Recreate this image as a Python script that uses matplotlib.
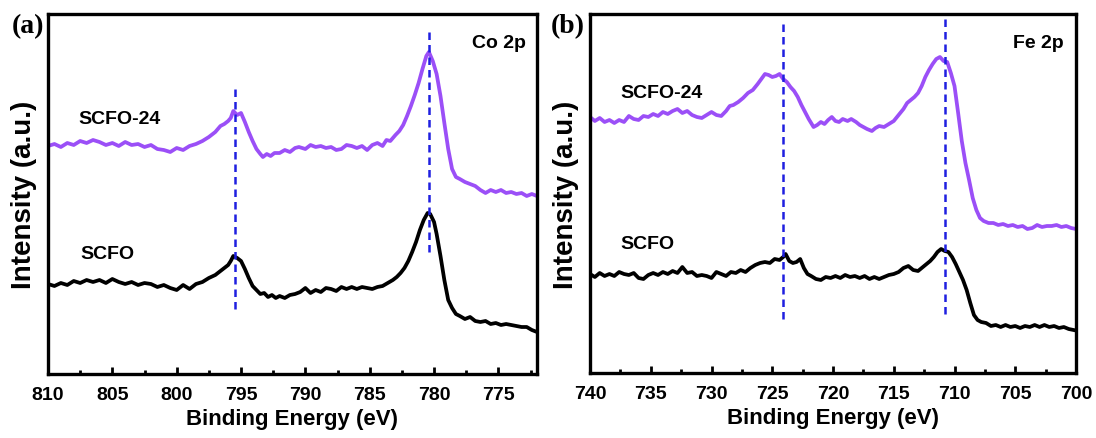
import matplotlib
matplotlib.use("Agg")
import matplotlib.pyplot as plt
import numpy as np
from matplotlib.ticker import AutoMinorLocator, MultipleLocator

plt.rcParams['font.family'] = ['Liberation Sans', 'DejaVu Sans']
plt.rcParams['font.weight'] = 'bold'

# Co 2p, SCFO-24 (purple)
co24_be = [810.0, 809.5, 809.0, 808.5, 808.0, 807.5, 807.0, 806.5, 806.0, 805.5,
           805.0, 804.5, 804.0, 803.5, 803.0, 802.5, 802.0, 801.5, 801.0, 800.5,
           800.0, 799.5, 799.0, 798.5, 798.0, 797.5, 797.0, 796.6, 796.3, 796.0,
           795.8, 795.6, 795.3, 795.0, 794.7, 794.4, 794.1, 793.8, 793.5, 793.3,
           793.0, 792.7, 792.4, 792.0, 791.6, 791.2, 790.8, 790.5, 790.0, 789.6,
           789.2, 788.8, 788.4, 788.0, 787.6, 787.2, 786.8, 786.4, 786.0, 785.6,
           785.2, 784.8, 784.4, 784.0, 783.7, 783.4, 783.0, 782.7, 782.4, 782.1,
           781.8, 781.5, 781.2, 780.9, 780.6, 780.4, 780.1, 779.8, 779.5, 779.2,
           778.9, 778.6, 778.3, 778.0, 777.6, 777.2, 776.8, 776.4, 776.0, 775.6,
           775.2, 774.8, 774.4, 774.0, 773.6, 773.2, 772.8, 772.4, 772.0]
co24_int = [228, 230, 227, 231, 229, 233, 231, 234, 232, 229,
            231, 228, 232, 229, 230, 227, 229, 225, 224, 222,
            226, 224, 228, 230, 233, 237, 242, 248, 250, 253,
            256, 263, 259, 261, 252, 242, 233, 225, 220, 217,
            220, 218, 221, 221, 224, 222, 226, 227, 225, 229,
            227, 228, 226, 227, 224, 225, 229, 228, 226, 228,
            224, 229, 231, 228, 234, 233, 239, 243, 249, 258,
            268, 279, 291, 305, 318, 322, 313, 300, 278, 251,
            225, 205, 197, 195, 192, 190, 188, 184, 181, 184,
            182, 184, 181, 182, 180, 181, 178, 180, 178]

# Co 2p, SCFO (black)
co_be = [810.0, 809.5, 809.0, 808.5, 808.0, 807.5, 807.0, 806.5, 806.0, 805.5,
         805.0, 804.5, 804.0, 803.5, 803.0, 802.5, 802.0, 801.5, 801.0, 800.5,
         800.0, 799.5, 799.0, 798.5, 798.0, 797.5, 797.0, 796.5, 796.0, 795.8,
         795.6, 795.3, 795.0, 794.7, 794.4, 794.1, 793.8, 793.5, 793.2, 792.9,
         792.6, 792.3, 792.0, 791.6, 791.2, 790.8, 790.4, 790.0, 789.6, 789.2,
         788.8, 788.4, 788.0, 787.6, 787.2, 786.8, 786.4, 786.0, 785.6, 785.2,
         784.8, 784.4, 784.0, 783.6, 783.2, 782.9, 782.6, 782.3, 782.0, 781.7,
         781.4, 781.1, 780.8, 780.5, 780.3, 780.0, 779.8, 779.5, 779.2, 778.9,
         778.6, 778.3, 778.0, 777.6, 777.2, 776.8, 776.4, 776.0, 775.6, 775.2,
         774.8, 774.4, 774.0, 773.6, 773.2, 772.8, 772.4, 772.0]
co_int = [90, 88, 91, 89, 93, 91, 94, 92, 94, 91,
          95, 92, 90, 92, 89, 91, 90, 87, 89, 86,
          84, 89, 85, 90, 92, 96, 99, 104, 109, 113,
          118, 116, 113, 105, 96, 88, 84, 80, 81, 77,
          79, 76, 78, 76, 79, 80, 82, 86, 81, 84,
          82, 86, 85, 83, 87, 85, 87, 85, 87, 86,
          85, 87, 88, 91, 94, 97, 101, 106, 113, 122,
          132, 144, 154, 161, 160, 152, 140, 118, 94, 74,
          66, 60, 58, 55, 57, 53, 52, 53, 50, 51,
          49, 50, 49, 48, 47, 47, 44, 42]

# Fe 2p, SCFO-24 (purple)
fe24_be = [740.0, 739.6, 739.2, 738.8, 738.4, 738.0, 737.6, 737.2, 736.8, 736.4,
           736.0, 735.6, 735.2, 734.8, 734.4, 734.0, 733.6, 733.2, 732.8, 732.4,
           732.0, 731.6, 731.2, 730.8, 730.4, 730.0, 729.6, 729.2, 728.8, 728.5,
           728.2, 727.8, 727.4, 727.0, 726.6, 726.2, 725.9, 725.6, 725.3, 725.0,
           724.7, 724.4, 724.1, 723.8, 723.5, 723.2, 722.9, 722.6, 722.3, 722.0,
           721.6, 721.3, 721.0, 720.7, 720.4, 720.1, 719.8, 719.5, 719.2, 718.8,
           718.5, 718.1, 717.8, 717.5, 717.2, 716.8, 716.5, 716.2, 715.8, 715.4,
           715.0, 714.6, 714.2, 713.9, 713.6, 713.3, 713.0, 712.7, 712.4, 712.1,
           711.8, 711.5, 711.2, 710.9, 710.6, 710.3, 710.0, 709.7, 709.4, 709.1,
           708.8, 708.5, 708.2, 707.9, 707.6, 707.2, 706.8, 706.4, 706.0, 705.6,
           705.2, 704.8, 704.4, 704.0, 703.6, 703.2, 702.8, 702.4, 702.0, 701.6,
           701.2, 700.8, 700.4, 700.0]
fe24_int = [256, 252, 255, 251, 253, 250, 253, 251, 257, 254,
            253, 257, 256, 259, 257, 261, 259, 262, 264, 260,
            262, 258, 256, 255, 258, 261, 258, 257, 262, 267,
            268, 271, 275, 280, 283, 289, 294, 299, 298, 296,
            297, 299, 294, 291, 286, 282, 276, 268, 261, 254,
            246, 248, 251, 249, 253, 256, 252, 251, 254, 252,
            254, 251, 248, 246, 244, 242, 245, 247, 246, 249,
            252, 258, 264, 270, 273, 276, 280, 287, 296, 303,
            309, 314, 316, 312, 311, 300, 287, 260, 232, 210,
            193, 175, 163, 155, 152, 150, 150, 148, 149, 147,
            148, 146, 147, 144, 145, 148, 146, 147, 147, 148,
            146, 147, 145, 144]

# Fe 2p, SCFO (black)
fe_be = [740.0, 739.6, 739.2, 738.8, 738.4, 738.0, 737.6, 737.2, 736.8, 736.4,
         736.0, 735.6, 735.2, 734.8, 734.4, 734.0, 733.6, 733.2, 732.8, 732.4,
         732.0, 731.6, 731.2, 730.8, 730.4, 730.0, 729.6, 729.2, 728.8, 728.4,
         728.0, 727.6, 727.2, 726.8, 726.4, 726.0, 725.6, 725.2, 724.8, 724.4,
         724.1, 723.9, 723.6, 723.3, 723.0, 722.7, 722.4, 722.1, 721.8, 721.4,
         721.0, 720.6, 720.2, 719.8, 719.4, 719.0, 718.6, 718.2, 717.8, 717.4,
         717.0, 716.6, 716.2, 715.8, 715.4, 715.0, 714.6, 714.2, 713.8, 713.4,
         713.0, 712.6, 712.3, 712.0, 711.7, 711.4, 711.1, 710.8, 710.5, 710.2,
         709.9, 709.6, 709.3, 709.0, 708.7, 708.4, 708.1, 707.8, 707.4, 707.0,
         706.6, 706.2, 705.8, 705.4, 705.0, 704.6, 704.2, 703.8, 703.4, 703.0,
         702.6, 702.2, 701.8, 701.4, 701.0, 700.6, 700.2]
fe_int = [99, 96, 100, 97, 99, 97, 101, 99, 98, 100,
          95, 94, 98, 100, 98, 101, 99, 102, 100, 106,
          100, 101, 97, 98, 97, 95, 101, 99, 97, 101,
          100, 103, 101, 105, 108, 110, 111, 110, 114, 113,
          116, 119, 112, 110, 111, 114, 105, 99, 97, 94,
          93, 96, 95, 97, 95, 98, 96, 97, 95, 97,
          94, 96, 94, 96, 98, 99, 101, 105, 107, 103,
          102, 106, 109, 112, 116, 121, 124, 122, 121, 116,
          109, 101, 93, 83, 70, 58, 53, 51, 50, 47,
          48, 46, 48, 46, 47, 45, 47, 46, 48, 46,
          48, 46, 47, 45, 46, 44, 43]

# peak reference lines (energy, bottom, top)
co_peaks = [(795.5, 65, 287), (780.4, 122, 343)]
fe_peaks = [(724.1, 54, 349), (710.8, 59, 354)]

PURPLE = '#9b4ff7'
DASH_BLUE = '#1f1fe0'

fig = plt.figure(figsize=(10.96, 4.39), dpi=100)
ax_a = fig.add_axes([48 / 1096, 64 / 439, 489 / 1096, 360 / 439])
ax_b = fig.add_axes([590 / 1096, 65 / 439, 486 / 1096, 359 / 439])


def style_axis(ax, xlim, ylim):
    ax.set_xlim(*xlim)
    ax.set_ylim(*ylim)
    ax.set_yticks([])
    ax.xaxis.set_major_locator(MultipleLocator(5))
    ax.xaxis.set_minor_locator(AutoMinorLocator(2))
    ax.tick_params(axis='x', which='major', direction='in', length=5, width=2,
                   labelsize=14, pad=9)
    ax.tick_params(axis='x', which='minor', direction='in', length=3, width=2)
    for lbl in ax.get_xticklabels():
        lbl.set_fontweight('bold')
    for sp in ax.spines.values():
        sp.set_linewidth(2.4)
    ax.set_xlabel('Binding Energy (eV)', fontsize=16, fontweight='bold', labelpad=3)
    ax.set_ylabel('Intensity (a.u.)', fontsize=20, fontweight='bold', labelpad=8)


# (a) Co 2p
ax_a.plot(co24_be, co24_int, color=PURPLE, lw=2.7)
ax_a.plot(co_be, co_int, color='black', lw=2.7)
for e, lo, hi in co_peaks:
    ax_a.plot([e, e], [lo, hi], color=DASH_BLUE, lw=1.8, ls=(0, (3, 2)))
style_axis(ax_a, (810, 772), (0, 360))
ax_a.text(0.062, 0.71, 'SCFO-24', transform=ax_a.transAxes, fontsize=14,
          fontweight='bold', va='center')
ax_a.text(0.066, 0.335, 'SCFO', transform=ax_a.transAxes, fontsize=14,
          fontweight='bold', va='center')
ax_a.text(0.978, 0.92, 'Co 2p', transform=ax_a.transAxes, fontsize=14,
          fontweight='bold', ha='right', va='center')
fig.text(28 / 1096, 1 - 27 / 439, '(a)', fontsize=20, fontweight='bold',
         family=['Liberation Serif', 'DejaVu Serif'], ha='center', va='center')

# (b) Fe 2p
ax_b.plot(fe24_be, fe24_int, color=PURPLE, lw=2.7)
ax_b.plot(fe_be, fe_int, color='black', lw=2.7)
for e, lo, hi in fe_peaks:
    ax_b.plot([e, e], [lo, hi], color=DASH_BLUE, lw=1.8, ls=(0, (3, 2)))
style_axis(ax_b, (740, 700), (0, 359))
ax_b.text(0.062, 0.78, 'SCFO-24', transform=ax_b.transAxes, fontsize=14,
          fontweight='bold', va='center')
ax_b.text(0.062, 0.36, 'SCFO', transform=ax_b.transAxes, fontsize=14,
          fontweight='bold', va='center')
ax_b.text(0.975, 0.92, 'Fe 2p', transform=ax_b.transAxes, fontsize=14,
          fontweight='bold', ha='right', va='center')
fig.text(568 / 1096, 1 - 27 / 439, '(b)', fontsize=20, fontweight='bold',
         family=['Liberation Serif', 'DejaVu Serif'], ha='center', va='center')

fig.savefig('out.png', dpi=100)
